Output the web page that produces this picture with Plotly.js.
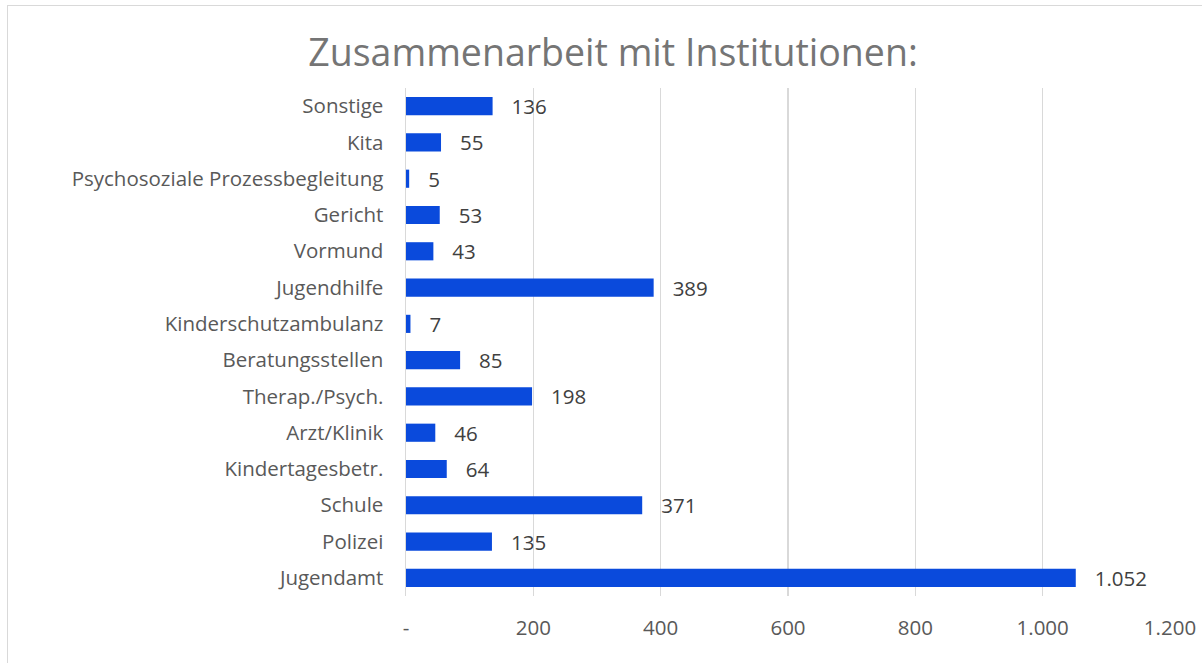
<!DOCTYPE html>
<html>
<head>
<meta charset="utf-8">
<script src="https://cdn.plot.ly/plotly-3.0.1.min.js"></script>
<style>
  html, body { margin: 0; padding: 0; background: #fff; }
  #wrap { position: relative; width: 1202px; height: 663px; }
  #chart { position: absolute; left: 0; top: 0; width: 1202px; height: 663px; }
  #frame { position: absolute; left: 7px; top: 5px; width: 1200px; height: 660px; border: 1px solid #d9d9d9; box-sizing: border-box; pointer-events: none; }
</style>
</head>
<body>
<div id="wrap">
  <div id="chart"></div>
  <div id="frame"></div>
</div>
<script>
const categories = [
  "Sonstige", "Kita", "Psychosoziale Prozessbegleitung", "Gericht", "Vormund",
  "Jugendhilfe", "Kinderschutzambulanz", "Beratungsstellen", "Therap./Psych.",
  "Arzt/Klinik", "Kindertagesbetr.", "Schule", "Polizei", "Jugendamt"
];
const values = [136, 55, 5, 53, 43, 389, 7, 85, 198, 46, 64, 371, 135, 1052];
const tickValues = [0, 200, 400, 600, 800, 1000, 1200];
const tickLabels = ["-", "200", "400", "600", "800", "1.000", "1.200"];
const chartTitle = "Zusammenarbeit mit Institutionen:";

const font = "'Open Sans', sans-serif";

const trace = {
  type: "bar",
  orientation: "h",
  y: categories,
  x: values,
  marker: { color: "#0a4adc", line: { width: 0 } },
  texttemplate: "   %{x:,d}",
  textposition: "outside",
  constraintext: "none",
  cliponaxis: false,
  textfont: { family: font, size: 20.5, color: "#404040" },
  hoverinfo: "x+y"
};

const layout = {
  width: 1202,
  height: 663,
  separators: ",.",
  paper_bgcolor: "rgba(0,0,0,0)",
  plot_bgcolor: "#fff",
  margin: { l: 406, r: 32, t: 88, b: 67, pad: 0 },
  title: {
    text: chartTitle,
    font: { family: font, size: 37.5, color: "#757575" },
    x: 0.51, xanchor: "center",
    y: 0.92, yanchor: "middle"
  },
  bargap: 0.5,
  showlegend: false,
  xaxis: {
    range: [0, 1200],
    tickvals: tickValues,
    ticktext: tickLabels,
    showgrid: true,
    gridcolor: "#d9d9d9",
    gridwidth: 1.5,
    zeroline: false,
    showline: false,
    ticks: "",
    ticklabelstandoff: 17,
    tickfont: { family: font, size: 20.5, color: "#595959" }
  },
  yaxis: {
    autorange: "reversed",
    showgrid: false,
    zeroline: false,
    showline: true,
    linecolor: "#d9d9d9",
    linewidth: 1.5,
    ticks: "",
    ticklabelstandoff: 17,
    tickfont: { family: font, size: 20.5, color: "#595959" }
  }
};

Plotly.newPlot("chart", [trace], layout, { displayModeBar: false, staticPlot: true });
</script>
</body>
</html>
